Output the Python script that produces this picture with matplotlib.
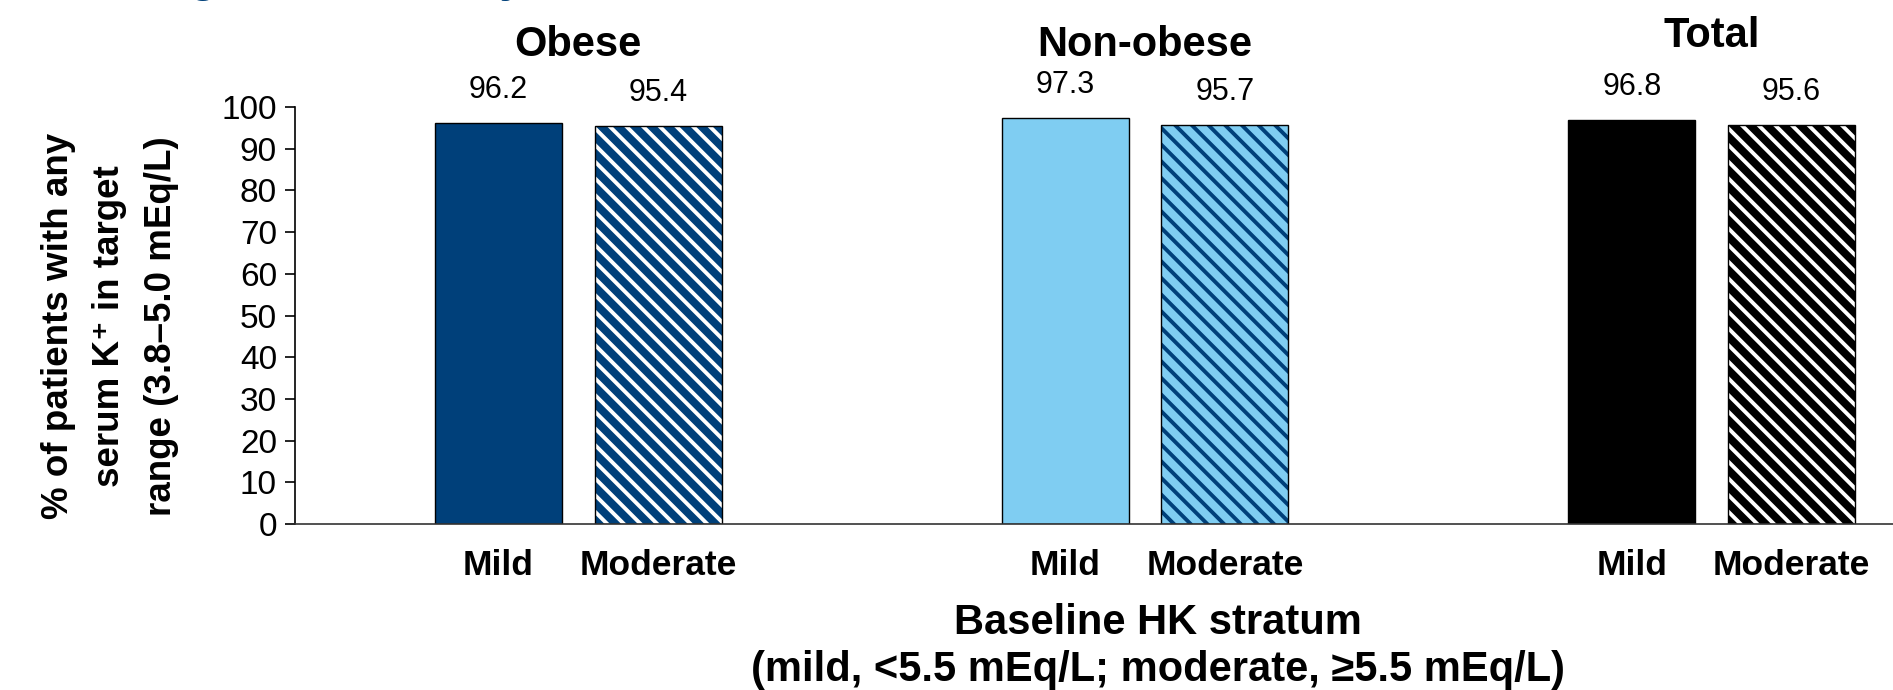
import matplotlib
matplotlib.use('Agg')
import matplotlib.pyplot as plt
from matplotlib.transforms import blended_transform_factory

plt.rcParams['font.family'] = ['Liberation Sans', 'DejaVu Sans']
plt.rcParams['hatch.linewidth'] = 2.8

# data
groups = ['Obese', 'Non-obese', 'Total']
strata = ['Mild', 'Moderate']
mild = [96.2, 97.3, 96.8]
moderate = [95.4, 95.7, 95.6]

NAVY = '#00407A'
LIGHT = '#7FCDF2'
mild_colors = [NAVY, LIGHT, '#000000']
mod_face = [NAVY, LIGHT, '#000000']
mod_hatch = ['white', NAVY, 'white']

fig = plt.figure(figsize=(18.93, 6.9), dpi=100)
ax = fig.add_axes([295 / 1893, 1 - 524 / 690, 1 - 295 / 1893, 417 / 690])

off = 0.141
w = 0.224
xs = list(range(len(groups)))
x_mild = [x - off for x in xs]
x_mod = [x + off for x in xs]

ax.bar(x_mild, mild, width=w, color=mild_colors, edgecolor='black', linewidth=1.0)
# hatched bars: hatch colour comes from edgecolor, outline drawn separately
ax.bar(x_mod, moderate, width=w, color=mod_face, edgecolor=mod_hatch,
       hatch='\\\\', linewidth=0)
ax.bar(x_mod, moderate, width=w, fill=False, edgecolor='black', linewidth=1.0)

for x, v in zip(x_mild + x_mod, mild + moderate):
    ax.annotate(f'{v:.1f}', (x, v), xytext=(0, 13), textcoords='offset points',
                ha='center', va='bottom', fontsize=22)

ax.set_ylim(0, 100)
ax.set_xlim(-0.5, 2.32)
ax.set_yticks(range(0, 101, 10))
ax.set_xticks(x_mild + x_mod)
ax.set_xticklabels([strata[0]] * 3 + [strata[1]] * 3, fontsize=25.5, fontweight='bold')
ax.tick_params(axis='x', length=0, pad=18)
ax.tick_params(axis='y', direction='out', length=7, width=1.2, labelsize=24, pad=6)
for s in ['top', 'right']:
    ax.spines[s].set_visible(False)
ax.spines['left'].set_linewidth(1.2)
ax.spines['bottom'].set_linewidth(1.2)
ax.spines['bottom'].set_color('#333333')

# group headers
tr = blended_transform_factory(ax.transData, fig.transFigure)
title_y = [1 - 45 / 690, 1 - 45 / 690, 1 - 36 / 690]
for x, g, y in zip(xs, groups, title_y):
    ax.text(x, y, g, transform=tr, ha='center', va='center',
            fontsize=30, fontweight='bold')

fig.text(110 / 1893, 1 - 326 / 690,
         '% of patients with any\nserum K\u207a in target\nrange (3.8\u20135.0 mEq/L)',
         rotation=90, ha='center', va='center', fontsize=26.5, fontweight='bold',
         linespacing=1.62, multialignment='center')

fig.text(1158 / 1893, 1 - 623 / 690, 'Baseline HK stratum',
         ha='center', va='center', fontsize=30, fontweight='bold')
fig.text(1158 / 1893, 1 - 670 / 690, '(mild, <5.5 mEq/L; moderate, \u22655.5 mEq/L)',
         ha='center', va='center', fontsize=30, fontweight='bold')

# slide title, mostly cut off at the top edge
fig.text(104 / 1893, 1 + 9 / 690, 'Long-term Efficacy', ha='left', va='baseline',
         fontsize=33.5, fontweight='bold', color=NAVY)

fig.savefig('out.png', dpi=100)
